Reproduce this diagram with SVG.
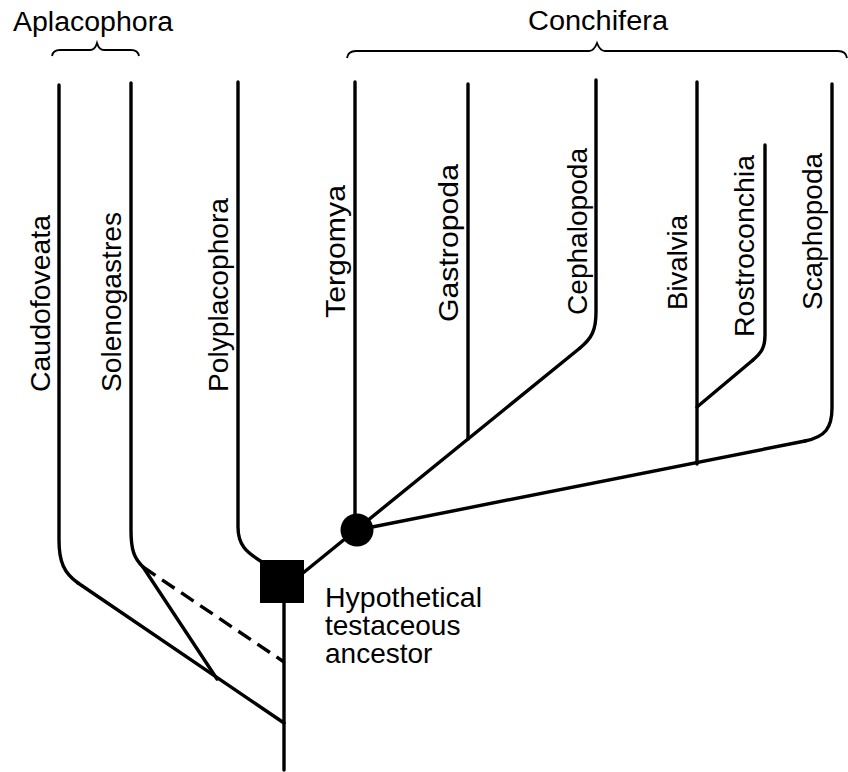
<svg xmlns="http://www.w3.org/2000/svg" width="848" height="772" viewBox="0 0 848 772">
<style>
text{font-family:"Liberation Sans",Arial,sans-serif;font-size:28px;fill:#000}
.br{fill:none;stroke:#000;stroke-width:3.4;stroke-linecap:round;stroke-linejoin:round}
.brace{fill:none;stroke:#000;stroke-width:1.8}
.dash{stroke-dasharray:15 8;stroke-linecap:butt}
</style>
<rect width="848" height="772" fill="#fff"/>
<g id="group-labels">
<g id="aplacophora"><text x="13" y="31" textLength="160" lengthAdjust="spacingAndGlyphs" style="font-size:27px">Aplacophora</text>
<path class="brace" d="M52,56 Q53,50 60,50 H90 Q95,50 97,43 Q99,50 104,50 H131 Q138,50 139,56"/></g>
<g id="conchifera"><text x="528" y="30" textLength="140" lengthAdjust="spacingAndGlyphs" style="font-size:27px">Conchifera</text>
<path class="brace" d="M347,58 Q348,51 356,51 H589 Q594,51 597,43 Q600,51 605,51 H838 Q846,51 847,58"/></g>
</g>
<g id="taxa">
<g id="caudofoveata"><path class="br" d="M59,85 V540 C59,562 64,573 78,583"/><text transform="translate(50,392) rotate(-90)" textLength="177" lengthAdjust="spacingAndGlyphs">Caudofoveata</text></g>
<g id="solenogastres"><path class="br" d="M131,83 V530 C131,550 134,558 143,567"/><text transform="translate(121,392) rotate(-90)" textLength="180" lengthAdjust="spacingAndGlyphs">Solenogastres</text></g>
<g id="polyplacophora"><path class="br" d="M238,82 V527 C238,545 246,552 262,562"/><text transform="translate(228,392) rotate(-90)" textLength="194" lengthAdjust="spacingAndGlyphs">Polyplacophora</text></g>
<g id="tergomya"><path class="br" d="M355,82 V530"/><text transform="translate(345,318) rotate(-90)" textLength="133" lengthAdjust="spacingAndGlyphs">Tergomya</text></g>
<g id="gastropoda"><path class="br" d="M468,84 V439"/><text transform="translate(458,322) rotate(-90)" textLength="158" lengthAdjust="spacingAndGlyphs">Gastropoda</text></g>
<g id="cephalopoda"><path class="br" d="M596,80 V312 C596,330 592,338 580,348"/><text transform="translate(587,315) rotate(-90)" textLength="167" lengthAdjust="spacingAndGlyphs">Cephalopoda</text></g>
<g id="bivalvia"><path class="br" d="M697,82 V464"/><text transform="translate(687,310) rotate(-90)" textLength="95" lengthAdjust="spacingAndGlyphs">Bivalvia</text></g>
<g id="rostroconchia"><path class="br" d="M765,145 V335 C765,348 761,353 753,360"/><text transform="translate(754,337) rotate(-90)" textLength="182" lengthAdjust="spacingAndGlyphs">Rostroconchia</text></g>
<g id="scaphopoda"><path class="br" d="M832,84 V408 C832,428 825,437 805,441"/><text transform="translate(822,310) rotate(-90)" textLength="157" lengthAdjust="spacingAndGlyphs">Scaphopoda</text></g>
</g>
<g id="connectors">
<path class="br" d="M78,583 L284,723"/>
<path class="br" d="M143,567 L217,679"/>
<path class="br dash" d="M143,567 L284,662"/>
<path class="br" d="M284,603 V770"/>
<path class="br" d="M580,348 L303,573"/>
<path class="br" d="M805,441 L357,530"/>
<path class="br" d="M753,360 L697,407"/>
</g>
<g id="ancestor"><rect x="260" y="560" width="44" height="43" fill="#000"/>
<text x="325" y="607" textLength="157" lengthAdjust="spacingAndGlyphs">Hypothetical</text>
<text x="325" y="635">testaceous</text>
<text x="325" y="663">ancestor</text></g>
<g id="conchifera-node"><circle cx="357" cy="530" r="16.5" fill="#000"/></g>
</svg>
